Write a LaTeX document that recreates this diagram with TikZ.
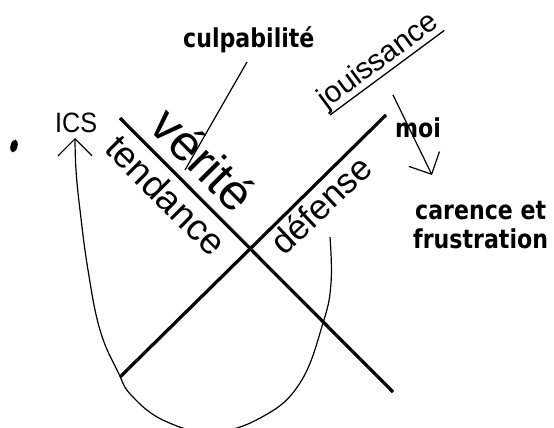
\documentclass[tikz,border=0pt]{standalone}
\usepackage{fontspec}
\setmainfont{Liberation Sans}
\newfontfamily\boldlab{DejaVu Sans}
\usetikzlibrary{arrows.meta}
\newcommand{\narrowbold}[1]{\scalebox{0.85}[1]{#1}}
\begin{document}
\begin{tikzpicture}[x=1pt,y=-1pt,
  bigline/.style={line width=3.2pt},
  thinline/.style={line width=1.2pt},
  blab/.style={font=\boldlab\bfseries\fontsize{26}{30}\selectfont, inner sep=0pt, anchor=base west},
  rlab/.style={inner sep=0pt, anchor=base west},
  barb/.style={-{Straight Barb[length=17pt,width=34pt]}}
]
\useasboundingbox (0,0) rectangle (554,428);
\clip (0,0) rectangle (554,428);
% main crossing lines
\coordinate (d1) at (120,118);
\coordinate (d2) at (393,392);
\coordinate (a1) at (120,377);
\coordinate (a2) at (386,115);
\draw[bigline] (d1) -- (d2);
\draw[bigline] (a1) -- (a2);
% rotated labels
\node[rlab, rotate=-45.1, font=\fontsize{50}{60}\selectfont] (verite) at (147.6,128.6) {vérité};
\node[rlab, rotate=-45.1, font=\fontsize{37}{44}\selectfont] (tendance) at (103,150.5) {tendance};
\node[rlab, rotate=43.5, font=\fontsize{35}{42}\selectfont] (defense) at (284,257) {défense};
\node[inner sep=0pt, anchor=south west, rotate=36.5, font=\fontsize{30}{36}\selectfont] (jouis) at (330,115) {jouissance};
\draw[line width=1.3pt] (jouis.south west) -- (jouis.south east);
% bold labels
\node[blab] (culp) at (183,48) {\narrowbold{culpabilité}};
\node[blab] (moi) at (395,137) {\narrowbold{moi}};
\node[blab] (carence) at (415,219) {\narrowbold{carence et}};
\node[blab] (frust) at (413,248) {\narrowbold{frustration}};
\node[rlab, font=\fontsize{28}{32}\selectfont] (ics) at (55,132) {\scalebox{0.9}[1]{ICS}};
% connectors
\coordinate (culpstart) at (247,62);
\coordinate (culpend) at (185,170);
\draw[thinline] (culpstart) -- (culpend);
\coordinate (moistart) at (393,95);
\coordinate (moitip) at (432,175);
\draw[thinline, barb] (moistart) -- (moitip);
\coordinate (loopstart) at (330,237);
\coordinate (icstip) at (75,138);
\draw[thinline, barb] plot[smooth, tension=0.7] coordinates {(loopstart) (331,283) (323,323) (300,383) (262,417) (212,432) (165,421) (132,396) (118,372) (100,330) (88,270) (80,210) (76,170) (icstip)};
% scan blot
\fill[rotate around={-15:(14,146)}] (14,146) ellipse [x radius=3.5, y radius=6.5];
\end{tikzpicture}
\end{document}
